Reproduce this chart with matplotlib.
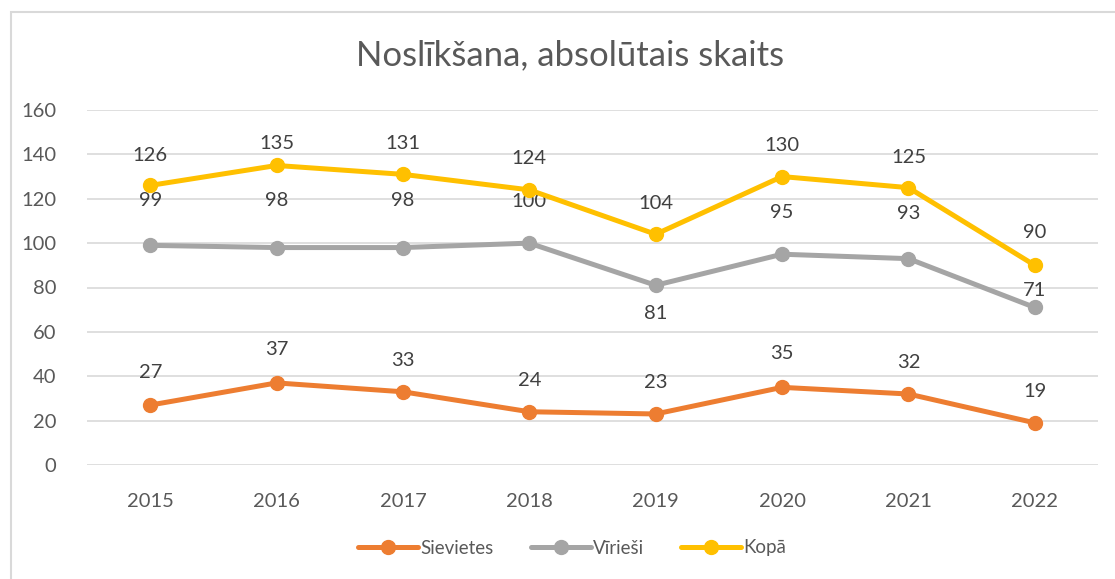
import matplotlib
matplotlib.use("Agg")
import matplotlib.pyplot as plt
from matplotlib.patches import Rectangle

years = ["2015", "2016", "2017", "2018", "2019", "2020", "2021", "2022"]
sievietes = [27, 37, 33, 24, 23, 35, 32, 19]
virviesi = [99, 98, 98, 100, 81, 95, 93, 71]
kopa = [126, 135, 131, 124, 104, 130, 125, 90]
series_names = ["Sievietes", "Vīrieši", "Kopā"]
title = "Noslīkšana, absolūtais skaits"

colors = ["#ED7D31", "#A5A5A5", "#FFC000"]
# label offsets in pixels (above point positive)
offs = [
    [33, 33, 31, 31, 31, 34, 32, 31],
    [45, 47, 47, 42, -28, 42, 45, 17],
    [30, 22, 31, 31, 31, 31, 30, 33],
]

plt.rcParams['font.family'] = ['Lato', 'DejaVu Sans']
fig = plt.figure(figsize=(11.15, 5.79), dpi=100)
ax = fig.add_axes([87/1115, 1-465/579, (1098-87)/1115, (465-110)/579])

x = list(range(len(years)))
handles = []
for name, vals, c, off in zip(series_names, [sievietes, virviesi, kopa], colors, offs):
    h, = ax.plot(x, vals, color=c, lw=3.6, marker='o', markersize=10,
                 solid_capstyle='round', label=name, zorder=3)
    handles.append(h)
    for xi, v, o in zip(x, vals, off):
        ax.annotate(str(v), (xi, v), xytext=(0, o*0.72), textcoords='offset points',
                    ha='center', va='center', fontsize=14.5, color='#404040')

ax.set_xlim(-0.5, len(years)-0.5)
ax.set_ylim(0, 160)
ax.set_yticks(range(0, 161, 20))
ax.set_xticks(x)
ax.set_xticklabels(years)
ax.grid(axis='y', color='#D9D9D9', lw=1.2)
ax.set_axisbelow(True)
for s in ax.spines.values():
    s.set_visible(False)
ax.tick_params(axis='both', length=0, labelsize=14.5, labelcolor='#595959')
ax.tick_params(axis='x', pad=20)
ax.tick_params(axis='y', pad=22)

fig.text(570/1115, 1-55/579, title, ha='center', va='center', fontsize=25, color='#595959')

fig.legend(handles=handles, loc='center', bbox_to_anchor=(572/1115, 1-548/579), ncol=3,
           frameon=False, fontsize=13.5, labelcolor='#595959', handlelength=3.2,
           handletextpad=0.1, columnspacing=2.0)

fig.patches.append(Rectangle((11/1115, -0.1), 1.2, 1-12/579+0.1, transform=fig.transFigure,
                             fill=False, edgecolor='#D9D9D9', lw=1.5))

fig.savefig("out.png", dpi=100)
